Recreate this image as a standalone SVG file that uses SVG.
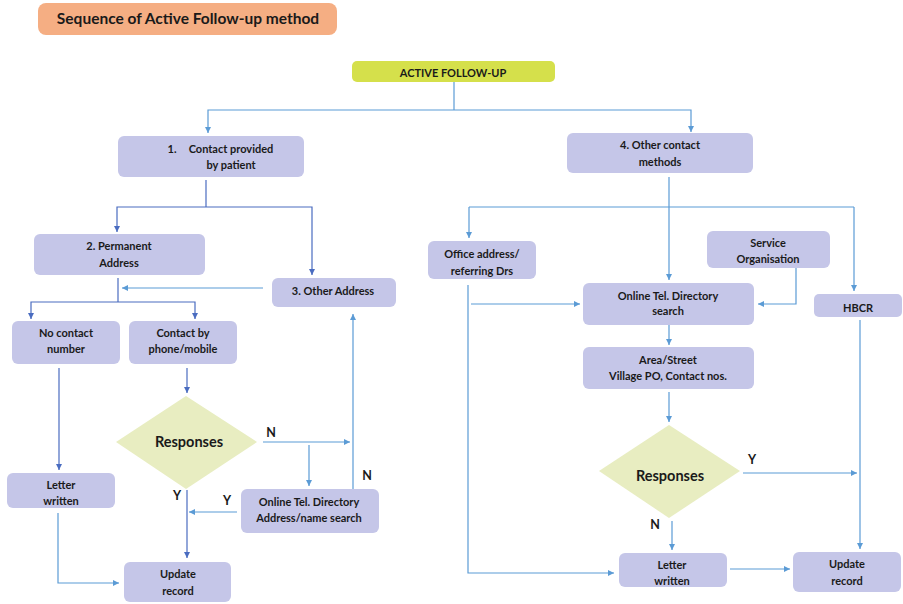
<svg xmlns="http://www.w3.org/2000/svg" width="903" height="604" viewBox="0 0 903 604">
<defs>
<marker id="ah" markerWidth="8" markerHeight="8" refX="6" refY="3" orient="auto" markerUnits="userSpaceOnUse"><path d="M0,0 L6,3 L0,6 z" fill="#5B9BD5"/></marker>
<marker id="ahd" markerWidth="8" markerHeight="8" refX="6" refY="3" orient="auto" markerUnits="userSpaceOnUse"><path d="M0,0 L6,3 L0,6 z" fill="#4A6CC0"/></marker>
<style>
.box{fill:#C5C6E8;}
.dia{fill:#E8EDC1;}
text{font-family:Lato,"Liberation Sans",sans-serif;font-weight:bold;fill:#1a1a1a;text-anchor:middle;dominant-baseline:central;}
.t{font-size:11px;}
.r{font-size:14.5px;}
.lbl{font-size:12.5px;}
.c{fill:none;stroke:#5B9BD5;stroke-width:1.2;}
.cd{fill:none;stroke:#4A6CC0;stroke-width:1.2;}
.c.a{marker-end:url(#ah);}
.cd.a{marker-end:url(#ahd);}
</style>
</defs>
<rect width="903" height="604" fill="#ffffff"/>
<g id="title"><rect x="38" y="3" width="299" height="32" rx="8" fill="#F5AE83"/><text x="188" y="18" style="font-size:15.5px">Sequence of Active Follow-up method</text></g>
<g id="connectors">
<path class="c" d="M454,82 V110"/>
<path class="c a" d="M454,110 H208 V133"/>
<path class="c a" d="M454,110 H691 V132"/>
<path class="cd" d="M206,180 V207"/>
<path class="cd a" d="M206,207 H117 V232"/>
<path class="cd a" d="M206,207 H312 V275"/>
<path class="c a" d="M263,288 H122"/>
<path class="cd" d="M118,278 V302"/>
<path class="cd a" d="M118,302 H31 V319"/>
<path class="cd a" d="M118,302 H195 V319"/>
<path class="cd a" d="M59,368 V470"/>
<path class="cd a" d="M187,368 V393"/>
<path class="c a" d="M263,442 H350"/>
<path class="c a" d="M309,445 H309 V486"/>
<path class="c a" d="M353,489 V314"/>
<path class="c a" d="M237,512 H189"/>
<path class="cd a" d="M187,490 V558"/>
<path class="c a" d="M58,513 V583 H119"/>
<path class="c a" d="M669,177 V280"/>
<path class="c" d="M469,207 H854"/>
<path class="c a" d="M469,207 V238"/>
<path class="c a" d="M854,207 V291"/>
<path class="c a" d="M796,268 V304 H758"/>
<path class="c a" d="M471,304 H580"/>
<path class="c a" d="M468,285 V573 H614"/>
<path class="c a" d="M669,325 V345"/>
<path class="c a" d="M669,392 V422"/>
<path class="c a" d="M743,473 H857"/>
<path class="c a" d="M860,320 V549"/>
<path class="c a" d="M672,521 V550"/>
<path class="c a" d="M730,569 H790"/>
</g>
<g id="active"><rect x="352" y="61" width="203" height="21" rx="5" fill="#D5E04B"/><text class="t" x="453" y="72">ACTIVE FOLLOW-UP</text></g>
<g id="n1"><rect class="box" x="118" y="136" width="186" height="41" rx="6"/><text class="t" x="172" y="148">1.</text><text class="t" x="231" y="148">Contact provided</text><text class="t" x="231" y="164">by patient</text></g>
<g id="n4"><rect class="box" x="567" y="133" width="186" height="40" rx="6"/><text class="t" x="660" y="144">4. Other contact</text><text class="t" x="660" y="161">methods</text></g>
<g id="n2"><rect class="box" x="34" y="234" width="171" height="41" rx="6"/><text class="t" x="119" y="245">2. Permanent</text><text class="t" x="119" y="262">Address</text></g>
<g id="n3"><rect class="box" x="272" y="278" width="124" height="29" rx="6"/><text class="t" x="333" y="290">3. Other Address</text></g>
<g id="nocontact"><rect class="box" x="12" y="321" width="108" height="43" rx="6"/><text class="t" x="66" y="332">No contact</text><text class="t" x="66" y="348">number</text></g>
<g id="phone"><rect class="box" x="129" y="321" width="108" height="43" rx="6"/><text class="t" x="183" y="332">Contact by</text><text class="t" x="183" y="348">phone/mobile</text></g>
<g id="resp1"><polygon class="dia" points="186,396 257,442 186,489 116,442"/><text class="r" x="189" y="441">Responses</text></g>
<g id="letter1"><rect class="box" x="7" y="473" width="108" height="35" rx="6"/><text class="t" x="61" y="484">Letter</text><text class="t" x="61" y="500">written</text></g>
<g id="online1"><rect class="box" x="241" y="489" width="138" height="44" rx="6"/><text class="t" x="309" y="501">Online Tel. Directory</text><text class="t" x="309" y="517">Address/name search</text></g>
<g id="update1"><rect class="box" x="124" y="562" width="107" height="40" rx="6"/><text class="t" x="178" y="573">Update</text><text class="t" x="178" y="590">record</text></g>
<g id="office"><rect class="box" x="428" y="241" width="108" height="38" rx="6"/><text class="t" x="482" y="253">Office address/</text><text class="t" x="482" y="270">referring Drs</text></g>
<g id="service"><rect class="box" x="707" y="231" width="123" height="37" rx="6"/><text class="t" x="768" y="242">Service</text><text class="t" x="768" y="258">Organisation</text></g>
<g id="online2"><rect class="box" x="583" y="283" width="171" height="42" rx="6"/><text class="t" x="668" y="295">Online Tel. Directory</text><text class="t" x="668" y="310">search</text></g>
<g id="hbcr"><rect class="box" x="814" y="294" width="88" height="23" rx="5"/><text class="t" x="858" y="307">HBCR</text></g>
<g id="area"><rect class="box" x="583" y="347" width="171" height="42" rx="6"/><text class="t" x="668" y="359">Area/Street</text><text class="t" x="668" y="375">Village PO, Contact nos.</text></g>
<g id="resp2"><polygon class="dia" points="669,425 740,471 669,518 599,471"/><text class="r" x="670" y="475">Responses</text></g>
<g id="letter2"><rect class="box" x="619" y="553" width="108" height="34" rx="6"/><text class="t" x="672" y="564">Letter</text><text class="t" x="672" y="580">written</text></g>
<g id="update2"><rect class="box" x="793" y="552" width="108" height="40" rx="6"/><text class="t" x="847" y="563">Update</text><text class="t" x="847" y="580">record</text></g>
<g id="labels">
<text class="lbl" x="271" y="432">N</text>
<text class="lbl" x="367" y="475">N</text>
<text class="lbl" x="227" y="500">Y</text>
<text class="lbl" x="177" y="495">Y</text>
<text class="lbl" x="752" y="459">Y</text>
<text class="lbl" x="655" y="524">N</text>
</g>
</svg>
